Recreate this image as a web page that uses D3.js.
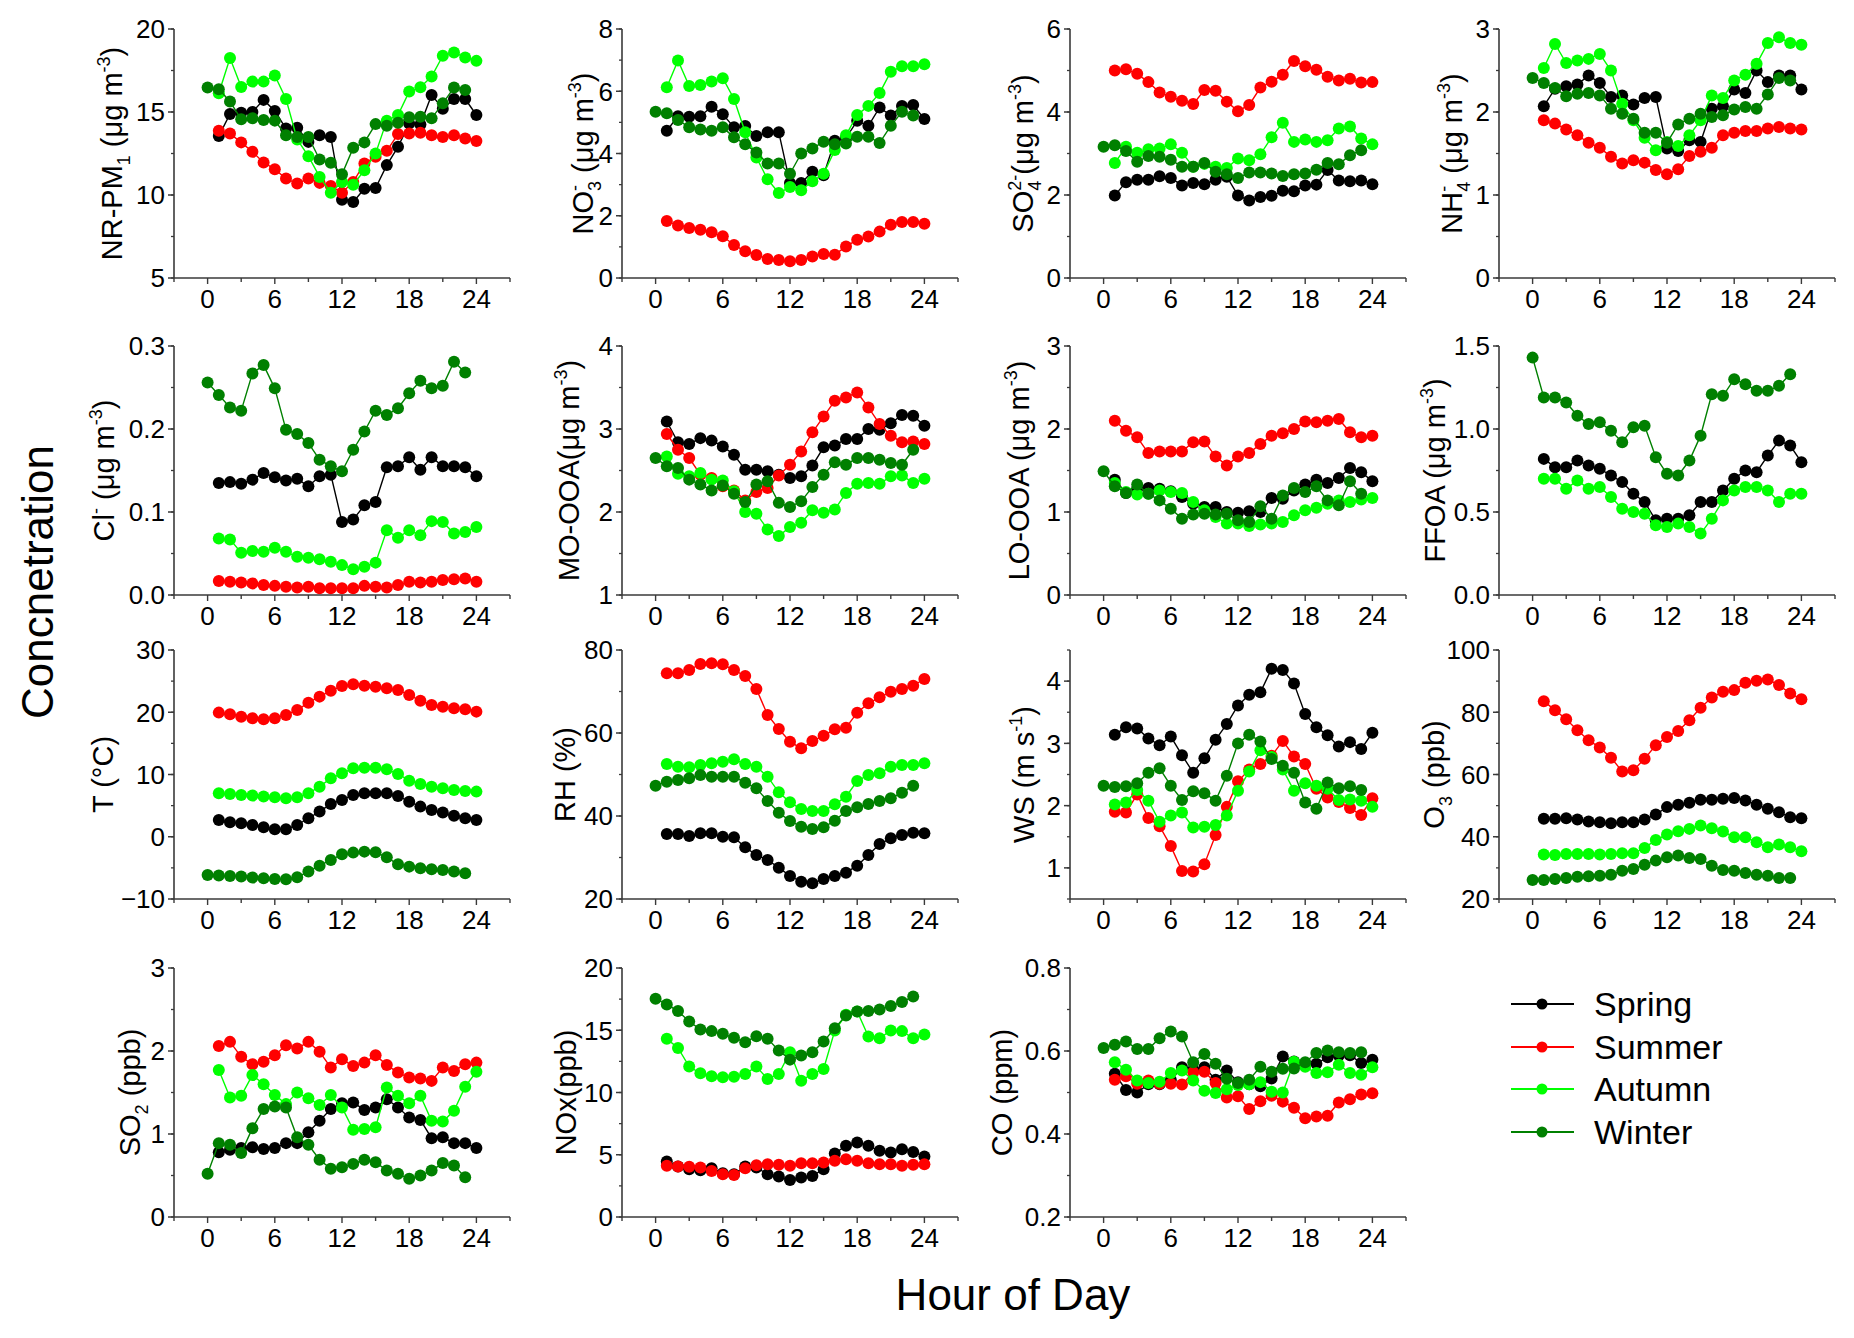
<!DOCTYPE html>
<html><head><meta charset="utf-8">
<script src="https://cdn.jsdelivr.net/npm/d3@7"></script>
<style>body{margin:0;background:#fff}svg{font-family:"Liberation Sans",Arial,sans-serif}</style>
</head><body><svg id="c" width="1854" height="1338"></svg>
<script>
// ---------------- DATA ----------------
const seasons = ["Spring","Summer","Autumn","Winter"];
const seasonColors = ["#000000","#ff0000","#00ff00","#008000"];
const hoursA = [1,2,3,4,5,6,7,8,9,10,11,12,13,14,15,16,17,18,19,20,21,22,23,24]; // Spring, Summer, Autumn
const hoursW = [0,1,2,3,4,5,6,7,8,9,10,11,12,13,14,15,16,17,18,19,20,21,22,23]; // Winter
const xTickLabels = [0,6,12,18,24];

const nrpm_spring = [13.55,14.88,14.95,15.0,15.73,15.06,14.0,14.05,13.2,13.6,13.5,9.72,9.58,10.38,10.42,11.8,12.9,14.3,14.25,16.03,15.2,15.78,15.78,14.82];
const nrpm_summer = [13.87,13.7,13.17,12.6,11.96,11.55,10.99,10.69,10.99,10.73,10.54,10.14,10.79,11.9,12.3,12.66,13.67,13.7,13.75,13.6,13.5,13.6,13.4,13.25];
const nrpm_autumn = [16.13,18.25,16.5,16.83,16.83,17.2,15.78,13.35,12.34,11.09,10.14,10.79,10.62,11.49,12.5,14.48,14.82,16.23,16.49,17.14,18.39,18.59,18.29,18.08];
const nrpm_winter = [16.47,16.37,15.63,14.56,14.62,14.52,14.48,13.6,13.5,13.5,12.14,11.94,11.25,12.84,13.17,14.27,14.17,14.35,14.68,14.72,14.62,15.52,16.47,16.33];

const no3_spring = [4.73,5.2,5.18,5.2,5.5,5.26,4.84,4.88,4.56,4.68,4.68,3.05,3.05,3.41,3.3,4.41,4.5,5.05,4.89,5.48,5.22,5.53,5.56,5.11];
const no3_summer = [1.83,1.69,1.61,1.55,1.47,1.34,1.06,0.86,0.74,0.61,0.58,0.54,0.58,0.69,0.77,0.75,1.01,1.23,1.33,1.49,1.71,1.8,1.8,1.74];
const no3_autumn = [6.13,6.99,6.17,6.2,6.31,6.42,5.75,4.68,3.87,3.17,2.73,2.92,2.82,3.11,3.35,4.11,4.59,5.24,5.53,5.94,6.63,6.8,6.8,6.87];
const no3_winter = [5.34,5.29,5.08,4.84,4.77,4.73,4.84,4.52,4.3,4.03,3.68,3.68,3.35,4.0,4.16,4.38,4.3,4.32,4.54,4.54,4.34,4.89,5.34,5.22];

const so4_spring = [1.99,2.31,2.37,2.37,2.45,2.41,2.23,2.29,2.26,2.37,2.44,1.99,1.87,1.95,1.98,2.10,2.09,2.23,2.25,2.6,2.35,2.33,2.35,2.26];
const so4_summer = [5.0,5.03,4.92,4.72,4.47,4.37,4.27,4.19,4.53,4.51,4.25,4.02,4.17,4.59,4.73,4.9,5.23,5.1,5.02,4.85,4.76,4.8,4.71,4.72];
const so4_autumn = [2.77,3.16,3.02,3.1,3.12,3.22,3.02,2.68,2.75,2.68,2.65,2.88,2.84,2.98,3.39,3.74,3.28,3.34,3.28,3.32,3.6,3.65,3.36,3.22];
const so4_winter = [3.16,3.2,3.06,2.8,2.94,2.92,2.85,2.68,2.68,2.77,2.56,2.5,2.41,2.54,2.54,2.52,2.46,2.5,2.52,2.61,2.77,2.74,2.96,3.08];

const nh4_spring = [2.07,2.28,2.31,2.33,2.44,2.35,2.18,2.2,2.09,2.17,2.18,1.56,1.53,1.66,1.64,2.04,2.07,2.27,2.23,2.5,2.36,2.44,2.44,2.27];
const nh4_summer = [1.9,1.86,1.79,1.72,1.63,1.57,1.46,1.38,1.42,1.39,1.3,1.25,1.31,1.47,1.52,1.57,1.72,1.75,1.77,1.77,1.8,1.82,1.8,1.79];
const nh4_autumn = [2.53,2.82,2.59,2.62,2.64,2.7,2.5,2.1,1.9,1.69,1.54,1.64,1.59,1.72,1.9,2.2,2.17,2.38,2.45,2.58,2.83,2.9,2.83,2.81];
const nh4_winter = [2.41,2.35,2.29,2.19,2.22,2.23,2.2,2.04,1.98,1.92,1.75,1.75,1.63,1.85,1.92,1.98,1.94,1.96,2.03,2.06,2.04,2.21,2.41,2.38];

const cl_spring = [0.135,0.136,0.134,0.139,0.147,0.142,0.138,0.14,0.131,0.143,0.145,0.088,0.091,0.108,0.112,0.154,0.155,0.166,0.151,0.166,0.155,0.155,0.154,0.143];
const cl_summer = [0.017,0.016,0.015,0.014,0.012,0.011,0.010,0.009,0.010,0.008,0.008,0.008,0.008,0.011,0.010,0.009,0.012,0.016,0.015,0.016,0.018,0.019,0.020,0.016];
const cl_autumn = [0.068,0.067,0.051,0.053,0.052,0.057,0.052,0.046,0.045,0.043,0.040,0.036,0.031,0.034,0.039,0.078,0.069,0.078,0.072,0.089,0.088,0.074,0.076,0.082];
const cl_winter = [0.256,0.241,0.226,0.222,0.267,0.277,0.249,0.199,0.194,0.183,0.163,0.155,0.149,0.175,0.197,0.222,0.217,0.225,0.243,0.258,0.249,0.252,0.281,0.268];

const moooa_spring = [3.09,2.84,2.82,2.89,2.86,2.79,2.69,2.51,2.51,2.49,2.45,2.41,2.43,2.56,2.78,2.8,2.88,2.88,3.0,2.99,3.07,3.17,3.16,3.04];
const moooa_summer = [2.94,2.75,2.65,2.45,2.41,2.31,2.26,2.14,2.24,2.29,2.44,2.57,2.73,2.96,3.15,3.34,3.38,3.44,3.26,3.06,2.92,2.84,2.85,2.82];
const moooa_autumn = [2.67,2.46,2.43,2.47,2.39,2.38,2.25,2.0,1.98,1.79,1.71,1.82,1.87,2.02,1.99,2.03,2.23,2.34,2.35,2.34,2.43,2.44,2.35,2.4];
const moooa_winter = [2.65,2.55,2.53,2.39,2.33,2.26,2.32,2.22,2.12,2.33,2.37,2.11,2.06,2.13,2.3,2.45,2.6,2.57,2.65,2.65,2.63,2.59,2.57,2.75];

const loooa_spring = [1.39,1.23,1.28,1.29,1.28,1.25,1.18,1.1,1.06,1.06,1.0,0.99,1.01,1.0,1.17,1.16,1.26,1.33,1.39,1.35,1.41,1.53,1.48,1.37];
const loooa_summer = [2.1,1.98,1.9,1.71,1.73,1.73,1.73,1.84,1.85,1.67,1.56,1.67,1.71,1.82,1.92,1.95,2.0,2.09,2.08,2.1,2.12,1.96,1.9,1.92];
const loooa_autumn = [1.35,1.24,1.21,1.22,1.26,1.24,1.23,1.12,1.02,0.94,0.86,0.86,0.83,0.85,0.86,0.88,0.96,1.02,1.05,1.1,1.14,1.12,1.15,1.17];
const loooa_winter = [1.49,1.31,1.23,1.33,1.22,1.14,1.04,0.92,0.97,0.98,0.97,0.98,0.9,0.88,1.07,0.92,1.2,1.29,1.24,1.31,1.14,1.08,1.37,1.22];

const ffoa_spring = [0.82,0.77,0.77,0.81,0.78,0.76,0.72,0.68,0.61,0.56,0.45,0.46,0.46,0.48,0.56,0.56,0.63,0.7,0.75,0.74,0.84,0.93,0.9,0.8];
const ffoa_autumn = [0.7,0.7,0.64,0.69,0.64,0.65,0.59,0.52,0.5,0.49,0.42,0.41,0.43,0.41,0.37,0.46,0.57,0.63,0.65,0.65,0.63,0.56,0.61,0.61];
const ffoa_winter = [1.43,1.19,1.19,1.16,1.08,1.03,1.04,0.99,0.92,1.01,1.02,0.83,0.73,0.72,0.81,0.96,1.21,1.2,1.3,1.27,1.23,1.23,1.26,1.33];

const t_spring = [2.7,2.32,2.16,1.89,1.52,1.2,1.2,1.89,2.97,4.04,5.27,5.91,6.71,6.98,6.98,6.98,6.55,5.64,4.84,4.3,3.88,3.39,2.97,2.7];
const t_summer = [19.94,19.67,19.29,19.03,18.86,19.03,19.56,20.36,21.54,22.51,23.47,24.22,24.49,24.27,24.11,23.84,23.58,22.77,21.86,21.17,20.9,20.63,20.47,20.1];
const t_autumn = [6.98,6.87,6.71,6.61,6.45,6.34,6.18,6.34,6.98,8.05,9.39,10.19,11.0,11.1,11.1,10.83,10.09,9.01,8.48,8.05,7.78,7.52,7.36,7.25];
const t_winter = [-6.13,-6.24,-6.3,-6.4,-6.56,-6.67,-6.78,-6.83,-6.51,-5.6,-4.64,-3.73,-2.82,-2.55,-2.39,-2.49,-3.3,-4.42,-4.8,-5.06,-5.22,-5.33,-5.6,-5.86];

const rh_spring = [35.66,35.66,35.18,35.82,35.82,35.02,34.86,32.45,30.6,29.4,27.55,25.54,24.18,23.78,24.82,25.54,26.35,28.03,30.6,33.25,34.62,35.42,35.98,35.82];
const rh_summer = [74.38,74.38,75.18,76.63,76.79,76.55,75.18,73.73,70.6,64.34,60.96,57.91,56.31,58.07,59.36,60.88,61.29,64.9,67.15,68.59,69.96,70.6,71.41,73.01];
const rh_autumn = [52.53,51.89,51.73,52.29,52.69,53.09,53.65,52.53,51.89,49.48,45.7,43.29,41.69,41.2,41.2,42.81,44.66,48.43,49.88,50.28,51.89,52.29,52.29,52.69];
const rh_winter = [47.31,48.27,48.67,49.08,49.88,49.48,49.48,49.48,48.03,46.67,43.61,40.8,38.8,37.43,36.87,37.27,38.88,41.2,42.09,42.89,43.61,44.26,45.62,47.31];

const ws_spring = [3.14,3.26,3.24,3.08,2.97,3.11,2.81,2.53,2.76,3.06,3.31,3.61,3.78,3.82,4.2,4.18,3.96,3.47,3.26,3.13,2.95,3.02,2.91,3.17];
const ws_summer = [1.9,1.89,2.18,1.8,1.67,1.35,0.95,0.94,1.06,1.53,1.98,2.39,2.58,2.67,2.8,3.04,2.79,2.67,2.27,2.13,2.06,1.96,1.85,2.12];
const ws_autumn = [2.02,2.05,2.25,2.08,1.74,1.84,1.89,1.65,1.66,1.69,1.84,2.24,2.55,2.89,2.78,2.58,2.24,2.36,2.32,2.27,2.09,2.1,2.08,1.98];
const ws_winter = [2.32,2.3,2.31,2.36,2.53,2.6,2.32,2.09,2.23,2.2,2.08,2.48,3.0,3.14,3.03,2.75,2.64,2.53,2.05,1.95,2.37,2.28,2.31,2.25];

const o3_spring = [45.76,45.76,45.97,45.54,44.9,44.68,44.36,44.68,44.68,45.54,47.15,49.52,50.27,50.91,51.88,51.88,52.2,52.42,51.66,50.27,48.98,47.9,46.29,45.97];
const o3_summer = [83.57,80.67,77.77,74.22,71.0,68.64,65.41,61.0,61.33,65.09,69.39,72.07,74.01,77.44,81.42,84.75,86.57,87.11,89.47,90.12,90.55,88.72,86.04,84.21];
const o3_autumn = [34.26,34.16,34.48,34.48,34.48,34.26,34.48,34.69,34.69,36.41,38.99,40.71,41.78,42.53,43.61,42.75,41.68,39.85,39.85,38.24,36.63,37.49,36.63,35.34];
const o3_winter = [26.1,26.1,26.42,26.75,27.17,27.28,27.5,27.82,29.11,29.65,31.04,32.33,33.4,33.94,33.19,32.87,30.72,29.32,29.11,28.36,27.82,27.5,26.75,26.75];

const so2_spring = [0.78,0.81,0.83,0.84,0.82,0.83,0.89,0.89,1.02,1.16,1.3,1.37,1.38,1.29,1.32,1.42,1.32,1.2,1.17,0.95,0.96,0.89,0.89,0.83];
const so2_summer = [2.06,2.11,1.93,1.84,1.87,1.95,2.07,2.03,2.11,1.99,1.8,1.9,1.82,1.86,1.95,1.83,1.74,1.68,1.67,1.64,1.8,1.76,1.84,1.86];
const so2_autumn = [1.77,1.44,1.46,1.71,1.6,1.47,1.36,1.5,1.43,1.35,1.47,1.32,1.05,1.06,1.08,1.56,1.46,1.37,1.46,1.16,1.15,1.28,1.57,1.75];
const so2_winter = [0.52,0.89,0.87,0.77,1.07,1.3,1.33,1.32,0.96,0.87,0.69,0.58,0.6,0.64,0.69,0.66,0.56,0.52,0.46,0.5,0.56,0.65,0.62,0.48];

const nox_spring = [4.46,4.05,3.84,3.76,3.92,3.52,3.44,4.05,3.97,3.44,3.25,2.98,3.17,3.3,3.84,5.1,5.72,5.99,5.72,5.32,5.18,5.45,5.23,4.86];
const nox_summer = [4.11,4.05,4.03,3.97,3.7,3.44,3.38,3.92,4.16,4.24,4.19,4.11,4.32,4.32,4.38,4.51,4.64,4.51,4.32,4.24,4.24,4.11,4.19,4.24];
const nox_autumn = [14.31,13.58,12.08,11.54,11.3,11.22,11.27,11.49,12.08,11.09,11.49,13.23,10.95,11.49,11.89,14.98,16.24,16.51,14.5,14.36,14.98,14.93,14.36,14.66];
const nox_winter = [17.53,17.07,16.54,15.7,15.06,14.93,14.71,14.39,14.04,14.52,14.31,13.37,12.64,12.97,13.23,14.09,15.17,16.19,16.51,16.54,16.67,16.94,17.26,17.72];

const co_spring = [0.545,0.506,0.5,0.52,0.52,0.53,0.561,0.555,0.561,0.531,0.553,0.525,0.52,0.515,0.534,0.587,0.575,0.565,0.569,0.585,0.589,0.59,0.571,0.579];
const co_summer = [0.531,0.539,0.521,0.529,0.521,0.521,0.519,0.549,0.55,0.523,0.488,0.491,0.46,0.479,0.492,0.478,0.463,0.438,0.442,0.444,0.476,0.484,0.495,0.498];
const co_autumn = [0.573,0.555,0.529,0.523,0.526,0.547,0.553,0.529,0.504,0.499,0.508,0.518,0.52,0.525,0.502,0.5,0.574,0.562,0.547,0.549,0.567,0.547,0.543,0.561];
const co_winter = [0.607,0.615,0.623,0.605,0.605,0.631,0.647,0.635,0.573,0.593,0.569,0.533,0.523,0.531,0.562,0.55,0.557,0.558,0.573,0.595,0.601,0.597,0.595,0.597];

// ---------------- PANELS ----------------
function S(sp, su, au, wi) {
  return [
    sp ? {s:0, x:hoursA, y:sp} : null,
    su ? {s:1, x:hoursA, y:su} : null,
    au ? {s:2, x:hoursA, y:au} : null,
    wi ? {s:3, x:hoursW, y:wi} : null
  ].filter(d => d);
}
const panels = [
  {label:["NR-PM",{sub:"1"},"  (μg m",{sup:"-3"},")"], dom:[5,20], ticks:[5,10,15,20], minor:2.5, fmt:"d", lx:-62, series:S(nrpm_spring,nrpm_summer,nrpm_autumn,nrpm_winter)},
  {label:["NO",{sub:"3",sup:"-"}," (μg m",{sup:"-3"},")"], dom:[0,8], ticks:[0,2,4,6,8], minor:1, fmt:"d", lx:-39, series:S(no3_spring,no3_summer,no3_autumn,no3_winter)},
  {label:["SO",{sub:"4",sup:"2-"},"(μg m",{sup:"-3"},")"], dom:[0,6], ticks:[0,2,4,6], minor:1, fmt:"d", lx:-47, series:S(so4_spring,so4_summer,so4_autumn,so4_winter)},
  {label:["NH",{sub:"4",sup:"-"}," (μg m",{sup:"-3"},")"], dom:[0,3], ticks:[0,1,2,3], minor:0.5, fmt:"d", lx:-47, series:S(nh4_spring,nh4_summer,nh4_autumn,nh4_winter)},
  {label:["Cl",{sup:"-"}," (μg m",{sup:"-3"},")"], dom:[0,0.3], ticks:[0,0.1,0.2,0.3], minor:0.05, fmt:".1f", lx:-70, series:S(cl_spring,cl_summer,cl_autumn,cl_winter)},
  {label:["MO-OOA(μg m",{sup:"-3"},")"], dom:[1,4], ticks:[1,2,3,4], minor:0.5, fmt:"d", lx:-53, series:S(moooa_spring,moooa_summer,moooa_autumn,moooa_winter)},
  {label:["LO-OOA (μg m",{sup:"-3"},")"], dom:[0,3], ticks:[0,1,2,3], minor:0.5, fmt:"d", lx:-51, series:S(loooa_spring,loooa_summer,loooa_autumn,loooa_winter)},
  {label:["FFOA (μg m",{sup:"-3"},")"], dom:[0,1.5], ticks:[0,0.5,1.0,1.5], minor:0.25, fmt:".1f", lx:-64, series:S(ffoa_spring,null,ffoa_autumn,ffoa_winter)},
  {label:["T (°C)"], dom:[-10,30], ticks:[-10,0,10,20,30], minor:5, fmt:"d", lx:-71, series:S(t_spring,t_summer,t_autumn,t_winter)},
  {label:["RH (%)"], dom:[20,80], ticks:[20,40,60,80], minor:10, fmt:"d", lx:-57, series:S(rh_spring,rh_summer,rh_autumn,rh_winter)},
  {label:["WS (m s",{sup:"-1"},")"], dom:[0.5,4.5], ticks:[1,2,3,4], minor:0.5, fmt:"d", lx:-46, series:S(ws_spring,ws_summer,ws_autumn,ws_winter)},
  {label:["O",{sub:"3"}," (ppb)"], dom:[20,100], ticks:[20,40,60,80,100], minor:10, fmt:"d", lx:-65, series:S(o3_spring,o3_summer,o3_autumn,o3_winter)},
  {label:["SO",{sub:"2"}," (ppb)"], dom:[0,3], ticks:[0,1,2,3], minor:0.5, fmt:"d", lx:-44, series:S(so2_spring,so2_summer,so2_autumn,so2_winter)},
  {label:["NOx(ppb)"], dom:[0,20], ticks:[0,5,10,15,20], minor:2.5, fmt:"d", lx:-56, series:S(nox_spring,nox_summer,nox_autumn,nox_winter)},
  {label:["CO (ppm)"], dom:[0.2,0.8], ticks:[0.2,0.4,0.6,0.8], minor:0.1, fmt:".1f", lx:-68, series:S(co_spring,co_summer,co_autumn,co_winter)}
];

// ---------------- LAYOUT ----------------
const colX = [174, 622, 1070, 1499];
const rowY = [29, 346, 650, 968];
const PW = 336, PH = 249;
const tickFS = 26, labelFS = 29;
const axisColor = "#3a3a3a";

const svg = d3.select("#c");

function drawLabel(g, segs, fs) {
  const t = g.append("text").attr("font-size", fs).attr("text-anchor", "middle").attr("fill", "#000");
  let shift = 0, pendDx = 0;
  const subFS = fs * 0.62, subDy = fs * 0.28, supDy = -fs * 0.42;
  segs.forEach(seg => {
    if (typeof seg === "string") {
      t.append("tspan").attr("dx", pendDx).attr("dy", -shift).text(seg);
      shift = 0; pendDx = 0;
    } else if (seg.sub && seg.sup) {
      const a = t.append("tspan").attr("font-size", subFS).attr("dx", pendDx).attr("dy", subDy - shift).text(seg.sub);
      const la = a.node().getComputedTextLength();
      const b = t.append("tspan").attr("font-size", subFS).attr("dx", -la).attr("dy", supDy - subDy).text(seg.sup);
      const lb = b.node().getComputedTextLength();
      shift = supDy; pendDx = Math.max(0, la - lb);
    } else if (seg.sub) {
      t.append("tspan").attr("font-size", subFS).attr("dx", pendDx).attr("dy", subDy - shift).text(seg.sub);
      shift = subDy; pendDx = 0;
    } else if (seg.sup) {
      t.append("tspan").attr("font-size", subFS).attr("dx", pendDx).attr("dy", supDy - shift).text(seg.sup);
      shift = supDy; pendDx = 0;
    }
  });
  return t;
}

panels.forEach((p, i) => {
  const r = Math.floor(i / 4), c = i % 4;
  const g = svg.append("g").attr("transform", `translate(${colX[c]},${rowY[r]})`);
  const x = d3.scaleLinear().domain([-3, 27]).range([0, PW]);
  const y = d3.scaleLinear().domain(p.dom).range([PH, 0]);
  const fmt = d3.format(p.fmt);

  p.series.forEach(s => {
    const pts = s.x.map((h, k) => [h, s.y[k]]);
    g.append("path").datum(pts)
      .attr("fill", "none").attr("stroke", seasonColors[s.s]).attr("stroke-width", 1.4)
      .attr("d", d3.line().x(d => x(d[0])).y(d => y(d[1])));
    g.append("g").selectAll("circle").data(pts).join("circle")
      .attr("cx", d => x(d[0])).attr("cy", d => y(d[1])).attr("r", 6)
      .attr("fill", seasonColors[s.s]);
  });

  const nMinor = Math.round((p.dom[1] - p.dom[0]) / p.minor);
  const minorVals = d3.range(nMinor + 1).map(k => p.dom[0] + k * p.minor);
  g.append("g").selectAll("line.ym").data(minorVals).join("line")
    .attr("x1", -3).attr("x2", 0).attr("y1", d => y(d)).attr("y2", d => y(d))
    .attr("stroke", axisColor).attr("stroke-width", 1.3);
  g.append("g").selectAll("line.yM").data(p.ticks).join("line")
    .attr("x1", -6).attr("x2", 0).attr("y1", d => y(d)).attr("y2", d => y(d))
    .attr("stroke", axisColor).attr("stroke-width", 1.5);
  g.append("g").selectAll("text").data(p.ticks).join("text")
    .attr("x", -9).attr("y", d => y(d)).attr("dy", "0.36em")
    .attr("text-anchor", "end").attr("font-size", tickFS).attr("fill", "#000")
    .text(d => fmt(d));
  g.append("line").attr("x1", 0).attr("x2", 0).attr("y1", 0).attr("y2", PH)
    .attr("stroke", axisColor).attr("stroke-width", 1.6);

  const xt = d3.range(-3, 28, 3);
  g.append("g").selectAll("line").data(xt).join("line")
    .attr("x1", d => x(d)).attr("x2", d => x(d)).attr("y1", PH)
    .attr("y2", d => PH + (xTickLabels.includes(d) ? 6 : 4))
    .attr("stroke", axisColor).attr("stroke-width", 1.4);
  g.append("g").selectAll("text").data(xTickLabels).join("text")
    .attr("x", d => x(d)).attr("y", PH + 30)
    .attr("text-anchor", "middle").attr("font-size", tickFS).attr("fill", "#000")
    .text(d => d);
  g.append("line").attr("x1", 0).attr("x2", PW).attr("y1", PH).attr("y2", PH)
    .attr("stroke", axisColor).attr("stroke-width", 1.6);

  const lg = g.append("g").attr("transform", `translate(${p.lx + labelFS * 0.35},${PH / 2}) rotate(-90)`);
  drawLabel(lg, p.label, labelFS);
});

// legend
const legX = 1511, legY = [1004, 1047, 1089, 1132];
seasons.forEach((name, k) => {
  const lg = svg.append("g").attr("transform", `translate(${legX},${legY[k]})`);
  lg.append("line").attr("x1", 0).attr("x2", 63).attr("y1", 0).attr("y2", 0)
    .attr("stroke", seasonColors[k]).attr("stroke-width", 2);
  lg.append("circle").attr("cx", 31).attr("cy", 0).attr("r", 5.5).attr("fill", seasonColors[k]);
  lg.append("text").attr("x", 83).attr("y", 0).attr("dy", "0.36em")
    .attr("font-size", 34).attr("fill", "#000").text(name);
});

// global titles
svg.append("text").attr("transform", "translate(37,582) rotate(-90)")
  .attr("text-anchor", "middle").attr("dy", "0.36em").attr("font-size", 44).attr("fill", "#000")
  .text("Concnetration");
svg.append("text").attr("x", 1013).attr("y", 1310)
  .attr("text-anchor", "middle").attr("font-size", 44).attr("fill", "#000")
  .text("Hour of Day");
</script></body></html>
